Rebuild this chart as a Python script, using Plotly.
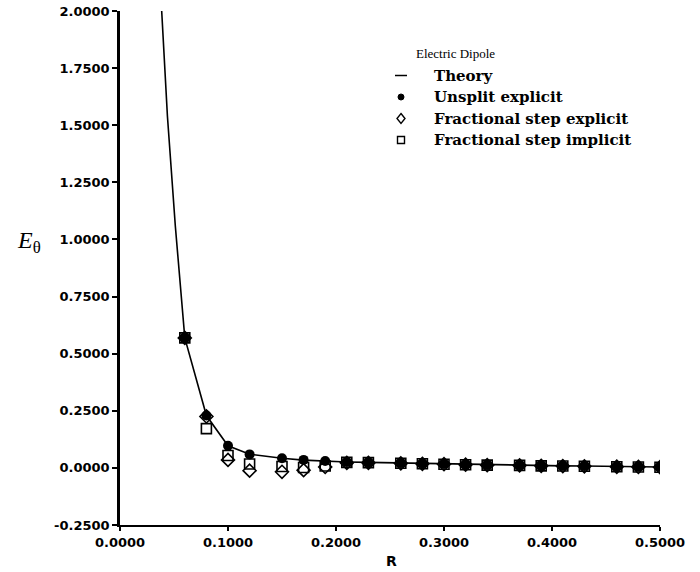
import plotly.graph_objects as go

# ---- data ----
r_theory = [0.0386, 0.0439, 0.0512, 0.06, 0.08, 0.10, 0.12, 0.15, 0.17, 0.19, 0.21, 0.23,
            0.26, 0.28, 0.30, 0.32, 0.34, 0.37, 0.39, 0.41, 0.43, 0.46, 0.48, 0.50]
e_theory = [2.0, 1.54, 1.06, 0.569, 0.229, 0.097, 0.060, 0.042, 0.034, 0.029, 0.026, 0.024,
            0.021, 0.019, 0.017, 0.015, 0.013, 0.012, 0.010, 0.009, 0.008, 0.006, 0.005, 0.004]

r_pts = [0.06, 0.08, 0.10, 0.12, 0.15, 0.17, 0.19, 0.21, 0.23, 0.26, 0.28, 0.30,
         0.32, 0.34, 0.37, 0.39, 0.41, 0.43, 0.46, 0.48, 0.50]
e_unsplit = [0.569, 0.229, 0.097, 0.059, 0.042, 0.035, 0.030, 0.026, 0.024, 0.021, 0.019, 0.017,
             0.015, 0.013, 0.012, 0.010, 0.009, 0.008, 0.006, 0.005, 0.004]
e_frac_exp = [0.569, 0.225, 0.035, -0.012, -0.017, -0.010, 0.004, 0.022, 0.022, 0.020, 0.018, 0.016,
              0.014, 0.012, 0.011, 0.009, 0.008, 0.007, 0.005, 0.004, 0.003]
e_frac_imp = [0.569, 0.172, 0.054, 0.017, 0.006, 0.002, 0.008, 0.024, 0.023, 0.020, 0.018, 0.016,
              0.014, 0.012, 0.011, 0.009, 0.008, 0.007, 0.005, 0.004, 0.003]

x_ticks = [0.0, 0.1, 0.2, 0.3, 0.4, 0.5]
x_ticktext = ["0.0000", "0.1000", "0.2000", "0.3000", "0.4000", "0.5000"]
y_ticks = [-0.25, 0.0, 0.25, 0.5, 0.75, 1.0, 1.25, 1.5, 1.75, 2.0]
y_ticktext = ["-0.2500", "0.0000", "0.2500", "0.5000", "0.7500", "1.0000",
              "1.2500", "1.5000", "1.7500", "2.0000"]

legend_title = "Electric Dipole"
legend_labels = ["Theory", "Unsplit explicit", "Fractional step explicit", "Fractional step implicit"]
x_title = "R"

# ---- layout geometry ----
W, H = 700, 572
ML, MR, MT, MB = 120, 40, 11, 47
PW, PH = W - ML - MR, H - MT - MB


def px(x):
    return (x - ML) / PW


def py(y):
    return (H - MB - y) / PH


fig = go.Figure()
fig.add_trace(go.Scatter(x=r_theory, y=e_theory, mode="lines", name="Theory",
                         line=dict(color="black", width=1.6), showlegend=False))
fig.add_trace(go.Scatter(x=r_pts, y=e_frac_imp, mode="markers", name="Fractional step implicit",
                         marker=dict(symbol="square-open", size=10, color="black",
                                     line=dict(width=1.6, color="black")), showlegend=False))
fig.add_trace(go.Scatter(x=r_pts, y=e_frac_exp, mode="markers", name="Fractional step explicit",
                         marker=dict(symbol="diamond-open", size=10, color="black",
                                     line=dict(width=1.6, color="black")), showlegend=False))
fig.add_trace(go.Scatter(x=r_pts, y=e_unsplit, mode="markers", name="Unsplit explicit",
                         marker=dict(symbol="circle", size=10, color="black"), showlegend=False))

# ---- manual legend (symbols as shapes, labels as annotations) ----
sym_x = 401
text_x = 432
title_y = 53
row_y = [75.5, 97, 118.5, 140]
shapes = []
shapes.append(dict(type="line", xref="paper", yref="paper",
                   x0=px(sym_x - 6), x1=px(sym_x + 6), y0=py(row_y[0]), y1=py(row_y[0]),
                   line=dict(color="black", width=1.5)))
r = 3
shapes.append(dict(type="circle", xref="paper", yref="paper",
                   x0=px(sym_x - r), x1=px(sym_x + r), y0=py(row_y[1] + r), y1=py(row_y[1] - r),
                   fillcolor="black", line=dict(color="black", width=1)))
dy, dx = 5, 4
yc = row_y[2]
path = "M {:.5f} {:.5f} L {:.5f} {:.5f} L {:.5f} {:.5f} L {:.5f} {:.5f} Z".format(
    px(sym_x), py(yc - dy), px(sym_x + dx), py(yc), px(sym_x), py(yc + dy), px(sym_x - dx), py(yc))
shapes.append(dict(type="path", xref="paper", yref="paper", path=path,
                   line=dict(color="black", width=1.4)))
s = 3.5
shapes.append(dict(type="rect", xref="paper", yref="paper",
                   x0=px(sym_x - s), x1=px(sym_x + s), y0=py(row_y[3] + s), y1=py(row_y[3] - s),
                   line=dict(color="black", width=1.4)))

annotations = [dict(text=legend_title, xref="paper", yref="paper", x=px(414), y=py(title_y),
                    xanchor="left", yanchor="middle", showarrow=False,
                    font=dict(family="Liberation Serif, Times New Roman, serif", size=13, color="black"))]
for lab, yy in zip(legend_labels, row_y):
    annotations.append(dict(text="<b>" + lab + "</b>", xref="paper", yref="paper",
                            x=px(text_x), y=py(yy), xanchor="left", yanchor="middle",
                            showarrow=False,
                            font=dict(family="DejaVu Serif, serif", size=15, color="black")))
annotations.append(dict(text="<i>E</i><sub>θ</sub>", xref="paper", yref="paper",
                        x=px(29), y=py(242), xanchor="center", yanchor="middle", showarrow=False,
                        font=dict(family="Liberation Serif, Times New Roman, serif", size=24,
                                  color="black")))
annotations.append(dict(text="<b>" + x_title + "</b>", xref="paper", yref="paper",
                        x=px(391), y=py(561), xanchor="center", yanchor="middle", showarrow=False,
                        font=dict(family="DejaVu Sans, sans-serif", size=14, color="black")))

axis_font = dict(family="DejaVu Sans, sans-serif", size=13, color="black", weight="bold")
fig.update_layout(
    width=W, height=H,
    margin=dict(l=ML, r=MR, t=MT, b=MB, autoexpand=False),
    paper_bgcolor="white", plot_bgcolor="white",
    showlegend=False,
    shapes=shapes,
    annotations=annotations,
    xaxis=dict(range=[0, 0.5], tickvals=x_ticks, ticktext=x_ticktext, ticks="outside", ticklen=4,
               showline=True, linecolor="black", linewidth=2, tickcolor="black", tickwidth=1.5,
               showgrid=False, zeroline=False, tickfont=axis_font, automargin=False),
    yaxis=dict(range=[-0.25, 2.0], tickvals=y_ticks, ticktext=y_ticktext, ticks="outside", ticklen=5,
               showline=True, linecolor="black", linewidth=2.5, tickcolor="black", tickwidth=1.5,
               showgrid=False, zeroline=False, tickfont=axis_font, automargin=False),
)
fig.write_html("out.html")
